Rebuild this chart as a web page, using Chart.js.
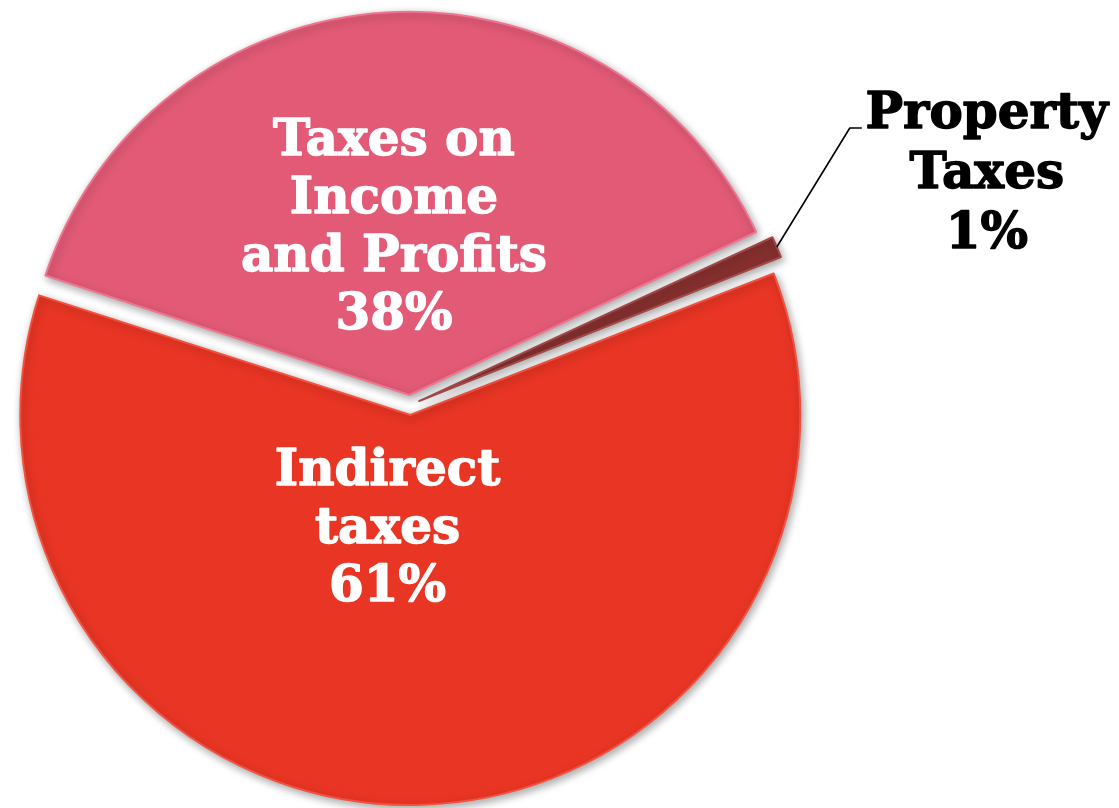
<!DOCTYPE html>
<html>
<head>
<meta charset="utf-8">
<script src="https://cdn.jsdelivr.net/npm/chart.js@4.4.1/dist/chart.umd.min.js"></script>
<style>
  html, body { margin: 0; padding: 0; background: #ffffff; }
  canvas { display: block; }
</style>
</head>
<body>
<canvas id="taxPie" width="1119" height="808"></canvas>
<script>
// Tax revenue composition
const categories = ['Indirect taxes', 'Taxes on Income and Profits', 'Property Taxes'];
const shares = [61, 38, 1];
const labelLines = [['Indirect', 'taxes'], ['Taxes on', 'Income', 'and Profits'], ['Property', 'Taxes']];
const sliceColors = ['#E93524', '#E25A76', '#86302F'];
const rimColors = ['#F25040', '#EE7590', '#A04848'];

// Where each slice's label sits
const labelStyle = [
  { inside: true, radial: 0.29, dx: -26, color: '#ffffff' },
  { inside: true, radial: 0.45, dx: -5, color: '#ffffff' },
  { inside: false, elbowDx: 73, elbowDy: -119, tail: 12, textDx: 137, color: '#000000' }
];
const labelFont = 'bold 50px "DejaVu Serif"';
const lineHeight = 58;
const capHalf = 18;

// Soft drop shadow under the slices
const sliceShadow = {
  id: 'sliceShadow',
  beforeDatasetsDraw(chart) {
    const ctx = chart.ctx;
    ctx.save();
    ctx.shadowColor = 'rgba(0,0,0,0.35)';
    ctx.shadowBlur = 8;
    ctx.shadowOffsetX = 2;
    ctx.shadowOffsetY = 3;
  },
  afterDatasetsDraw(chart) {
    chart.ctx.restore();
  }
};

// Text labels drawn from each arc's geometry
const sliceLabels = {
  id: 'sliceLabels',
  afterDraw(chart) {
    const ctx = chart.ctx;
    const meta = chart.getDatasetMeta(0);
    meta.data.forEach((arc, i) => {
      const p = arc.getProps(['x', 'y', 'startAngle', 'endAngle', 'outerRadius', 'circumference']);
      // ArcElement shifts a slice by a quarter of its offset option
      // and widens it by that shift times (1 - sin(min(PI, circumference)))
      const off = (arc.options.offset || 0) / 4;
      const grow = off * (1 - Math.sin(Math.min(Math.PI, p.circumference)));
      const mid = (p.startAngle + p.endAngle) / 2;
      const st = labelStyle[i];
      const lines = labelLines[i].concat([shares[i] + '%']);
      ctx.save();
      ctx.font = labelFont;
      ctx.fillStyle = st.color;
      ctx.strokeStyle = st.color;
      ctx.lineWidth = 1.4;
      ctx.lineJoin = 'round';
      ctx.textAlign = 'center';
      ctx.textBaseline = 'alphabetic';
      const put = (t, x, y) => { ctx.fillText(t, x, y); ctx.strokeText(t, x, y); };
      if (st.inside) {
        const d = off + p.outerRadius * st.radial;
        const ax = p.x + Math.cos(mid) * d + st.dx;
        const ay = p.y + Math.sin(mid) * d;
        const first = ay + capHalf - (lines.length - 1) * lineHeight / 2;
        lines.forEach((t, k) => put(t, ax, first + k * lineHeight));
      } else {
        const d = off + p.outerRadius + grow;
        const tx = p.x + Math.cos(mid) * d;
        const ty = p.y + Math.sin(mid) * d;
        const ex = tx + st.elbowDx;
        const ey = ty + st.elbowDy;
        ctx.lineWidth = 1.6;
        ctx.beginPath();
        ctx.moveTo(tx, ty);
        ctx.lineTo(ex, ey);
        ctx.lineTo(ex + st.tail, ey);
        ctx.stroke();
        ctx.lineWidth = 1.4;
        lines.forEach((t, k) => put(t, ex + st.textDx, ey + k * 60));
      }
      ctx.restore();
    });
  }
};

new Chart(document.getElementById('taxPie'), {
  type: 'pie',
  data: {
    labels: categories,
    datasets: [{
      data: shares,
      backgroundColor: sliceColors,
      borderColor: rimColors,
      borderWidth: 2,
      borderJoinStyle: 'round',
      offset: 40,
      hoverOffset: 0
    }]
  },
  options: {
    responsive: false,
    animation: false,
    rotation: 68.5,
    radius: 380,
    layout: { padding: { left: 0, right: 299, top: 2, bottom: 0 } },
    plugins: {
      legend: { display: false },
      tooltip: { enabled: false }
    },
    events: []
  },
  plugins: [sliceShadow, sliceLabels]
});
</script>
</body>
</html>
